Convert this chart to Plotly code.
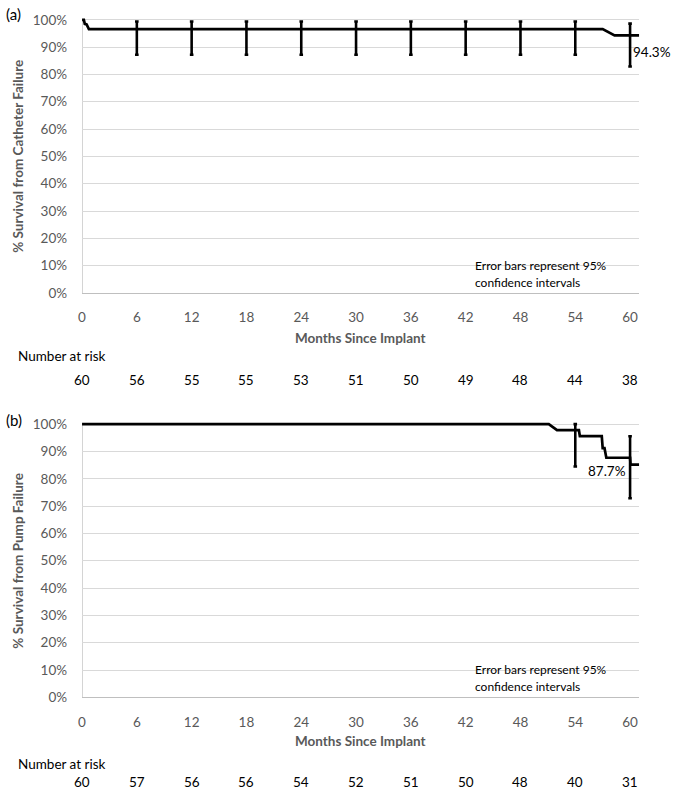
import plotly.graph_objects as go

# ---------------- data ----------------
months_ticks = [0, 6, 12, 18, 24, 30, 36, 42, 48, 54, 60]

# Panel (a): catheter failure
a_time = [0, 0.2, 0.3, 0.5, 0.75, 57.0, 58.3, 61.0]
a_surv = [100, 100, 98.5, 98.3, 96.6, 96.6, 94.3, 94.3]
a_ci_time = [6, 12, 18, 24, 30, 36, 42, 48, 54, 60]
a_ci_est = [96.6, 96.6, 96.6, 96.6, 96.6, 96.6, 96.6, 96.6, 96.6, 94.3]
a_ci_low = [87.2, 87.2, 87.2, 87.2, 87.2, 87.2, 87.2, 87.2, 87.2, 82.9]
a_ci_high = [99.4, 99.4, 99.4, 99.4, 99.4, 99.4, 99.4, 99.4, 99.4, 98.6]
a_at_risk = [60, 56, 55, 55, 53, 51, 50, 49, 48, 44, 38]

# Panel (b): pump failure
b_time = [0, 51.1, 52.0, 54.4, 54.5, 56.9, 57.0, 57.2, 57.4, 60.0, 60.05, 61.0]
b_surv = [100, 100, 97.8, 97.8, 95.6, 95.6, 91.2, 91.2, 87.7, 87.7, 85.2, 85.2]
b_ci_time = [54, 60]
b_ci_est = [97.8, 87.7]
b_ci_low = [84.5, 72.9]
b_ci_high = [100.0, 95.6]
b_at_risk = [60, 57, 56, 56, 54, 52, 51, 50, 48, 40, 31]

# ---------------- style ----------------
FONT = "Lato, 'Open Sans', Arial, sans-serif"
GRAY = "#595959"
GRID = "#d9d9d9"
AXLINE = "#bfbfbf"
W, H = 675, 801

def py(pix):
    return 1 - pix / H

x_dom = [78.5 / W, 639 / W]
a_dom = [py(294), py(11.5)]
b_dom = [py(704), py(421.5)]

fig = go.Figure()

def add_panel(xa, ya, t, s, ct, ce, clo, chi):
    fig.add_trace(go.Scatter(
        x=t, y=s, mode="lines", xaxis=xa, yaxis=ya,
        line=dict(color="black", width=2.7), showlegend=False, hoverinfo="skip"))
    fig.add_trace(go.Scatter(
        x=ct, y=ce, mode="markers", xaxis=xa, yaxis=ya,
        marker=dict(size=1, color="rgba(0,0,0,0)"),
        error_y=dict(type="data", symmetric=False,
                     array=[h - e for h, e in zip(chi, ce)],
                     arrayminus=[e - l for e, l in zip(ce, clo)],
                     color="black", thickness=2.6, width=1.8),
        showlegend=False, hoverinfo="skip"))

add_panel("x", "y", a_time, a_surv, a_ci_time, a_ci_est, a_ci_low, a_ci_high)
add_panel("x2", "y2", b_time, b_surv, b_ci_time, b_ci_est, b_ci_low, b_ci_high)

xaxis_common = dict(
    range=[0, 61], tickmode="array", tickvals=months_ticks,
    ticktext=[str(m) for m in months_ticks],
    showgrid=False, zeroline=False, showline=True, linecolor=AXLINE, linewidth=1.3,
    ticks="", ticklabelstandoff=12,
    tickfont=dict(family=FONT, size=13.5, color=GRAY), fixedrange=True)
yaxis_common = dict(
    range=[0, 102], tickmode="array", tickvals=list(range(0, 101, 10)),
    ticktext=[f"{v}%" for v in range(0, 101, 10)],
    showgrid=True, gridcolor=GRID, gridwidth=1.2, zeroline=False, showline=False,
    ticks="", ticklabelstandoff=14,
    tickfont=dict(family=FONT, size=13.5, color=GRAY), fixedrange=True)

fig.update_layout(
    width=W, height=H, margin=dict(l=0, r=0, t=0, b=0),
    paper_bgcolor="white", plot_bgcolor="white",
    xaxis=dict(domain=x_dom, anchor="y", **xaxis_common),
    yaxis=dict(domain=a_dom, anchor="x", **yaxis_common),
    xaxis2=dict(domain=x_dom, anchor="y2", **xaxis_common),
    yaxis2=dict(domain=b_dom, anchor="x2", **yaxis_common),
)

# left axis lines (0% to 100%)
for xr, yr in [("x", "y"), ("x2", "y2")]:
    fig.add_shape(type="line", xref=xr, yref=yr, x0=0, x1=0, y0=0, y1=100,
                  line=dict(color=AXLINE, width=1.3), layer="below")

ann = []
def text(x, y, s, xref="paper", yref="paper", size=13, color="black", bold=False,
         xanchor="center", yanchor="middle", angle=0):
    ann.append(dict(x=x, y=y, xref=xref, yref=yref, text=f"<b>{s}</b>" if bold else s,
                    showarrow=False, xanchor=xanchor, yanchor=yanchor, textangle=angle,
                    font=dict(family=FONT, size=size, color=color)))

xc = (x_dom[0] + x_dom[1]) / 2
# panel labels
text(0.0, py(11), "(a)", size=15, xanchor="left")
text(0.0, py(423), "(b)", size=15, xanchor="left")
# axis titles
text(xc, py(340), "Months Since Implant", size=13.5, color=GRAY, bold=True)
text(xc, py(748), "Months Since Implant", size=13.5, color=GRAY, bold=True)
text(14 / W, py(155), "% Survival from Catheter Failure", size=13.5, color=GRAY, bold=True, angle=-90)
text(14 / W, py(565.5), "% Survival from Pump Failure", size=13.5, color=GRAY, bold=True, angle=-90)
# value labels
text(673 / W, py(50), "94.3%", size=13.5, xanchor="right")
text(59.8, 82.7, "87.7%", xref="x2", yref="y2", size=13.5, xanchor="right")
# notes
for xr, yr in [("x", "y"), ("x2", "y2")]:
    text(42.8, 10.1, "Error bars represent 95%", xref=xr, yref=yr, size=12, xanchor="left")
    text(42.8, 4.0, "confidence intervals", xref=xr, yref=yr, size=12, xanchor="left")
# number at risk
text(12 / W, py(358), "Number at risk", size=13.5, xanchor="left")
text(12 / W, py(772), "Number at risk", size=13.5, xanchor="left")
for m, n in zip(months_ticks, a_at_risk):
    text(m, py(382), str(n), xref="x", size=13.5)
for m, n in zip(months_ticks, b_at_risk):
    text(m, py(790), str(n), xref="x2", size=13.5)

fig.update_layout(annotations=ann)
fig.write_html("out.html",
               config={"displayModeBar": False},
               post_script="document.body.style.margin='0';document.body.style.padding='0';"
                           "document.body.style.overflow='hidden';")
